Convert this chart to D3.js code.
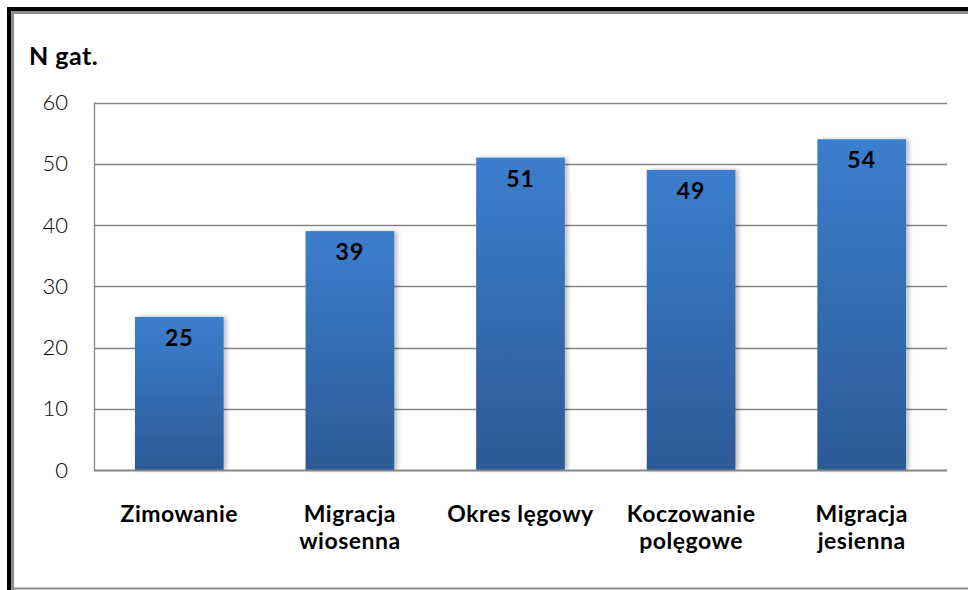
<!DOCTYPE html>
<html>
<head>
<meta charset="utf-8">
<script src="https://cdn.jsdelivr.net/npm/d3@7"></script>
<style>
  body { margin: 0; background: #fff; }
  svg { display: block; }
  text { font-family: Lato, "Open Sans", sans-serif; fill: #000; }
</style>
</head>
<body>
<div id="chart"></div>
<script>
// dane
const categories = [["Zimowanie"], ["Migracja", "wiosenna"], ["Okres lęgowy"], ["Koczowanie", "polęgowe"], ["Migracja", "jesienna"]]
const values = [25, 39, 51, 49, 54]
const yTicks = [0, 10, 20, 30, 40, 50, 60]
const yTitle = "N gat."

// wymiary
const width = 968
const height = 590
const plot = { left: 94, right: 947, top: 102.5, bottom: 470 }

const svg = d3.select("#chart").append("svg").attr("width", width).attr("height", height)

// gradient
const defs = svg.append("defs")
const grad = defs.append("linearGradient").attr("id", "barGrad").attr("x1", 0).attr("y1", 0).attr("x2", 0).attr("y2", 1)
grad.append("stop").attr("offset", "0%").attr("stop-color", "#3c7ecd")
grad.append("stop").attr("offset", "100%").attr("stop-color", "#2c5a97")
const shadow = defs.append("filter").attr("id", "shadow").attr("x", "-10%").attr("y", "-10%").attr("width", "130%").attr("height", "120%")
shadow.append("feGaussianBlur").attr("in", "SourceAlpha").attr("stdDeviation", 2)
shadow.append("feOffset").attr("dx", 3).attr("dy", 0).attr("result", "b")
shadow.append("feComponentTransfer").append("feFuncA").attr("type", "linear").attr("slope", 0.25)
const merge = shadow.append("feMerge")
merge.append("feMergeNode")
merge.append("feMergeNode").attr("in", "SourceGraphic")

// ramka
const frame = svg.append("g").attr("id", "frame")
frame.append("rect").attr("x", 7).attr("y", 7).attr("width", width - 7).attr("height", 4).attr("fill", "#000")
frame.append("rect").attr("x", 7).attr("y", 7).attr("width", 4).attr("height", height - 7).attr("fill", "#000")
frame.append("rect").attr("x", 11).attr("y", 11).attr("width", width - 11).attr("height", 3).attr("fill", "#8c8c8c")
frame.append("rect").attr("x", 11).attr("y", 11).attr("width", 3).attr("height", height - 11).attr("fill", "#8c8c8c")
frame.append("rect").attr("x", 14).attr("y", 587.5).attr("width", width - 14).attr("height", 2).attr("fill", "#8c8c8c")

// skale
const x = d3.scaleBand().domain(d3.range(values.length)).range([plot.left, plot.right]).paddingInner(0.48).paddingOuter(0.24)
const y = d3.scaleLinear().domain([0, 60]).range([plot.bottom, plot.top])

// siatka
const grid = svg.append("g").attr("id", "grid")
grid.selectAll("line").data(yTicks.filter(d => d > 0)).enter().append("line")
  .attr("x1", plot.left).attr("x2", plot.right)
  .attr("y1", d => Math.round(y(d)) + 0.5).attr("y2", d => Math.round(y(d)) + 0.5)
  .attr("stroke", "#868686").attr("stroke-width", 1.3)

// os Y
const yAxis = d3.axisLeft(y).tickValues(yTicks).tickSize(0).tickPadding(26)
const yAxisGroup = svg.append("g").attr("transform", `translate(${plot.left},0)`).call(yAxis)
yAxisGroup.select(".domain").remove()
yAxisGroup.selectAll("text").attr("font-size", 22).attr("fill", "#000").style("font-family", "Lato, sans-serif").attr("font-weight", 300)
svg.append("line").attr("x1", plot.left + 0.5).attr("x2", plot.left + 0.5).attr("y1", plot.top).attr("y2", plot.bottom)
  .attr("stroke", "#868686").attr("stroke-width", 1.3)

// slupki
const bars = svg.append("g").attr("id", "bars")
bars.selectAll("rect").data(values).enter().append("rect")
  .attr("x", (d, i) => x(i))
  .attr("y", d => y(d))
  .attr("width", x.bandwidth())
  .attr("height", d => plot.bottom - y(d))
  .attr("fill", "url(#barGrad)")
  .attr("filter", "url(#shadow)")

// os X (linia bazowa)
svg.append("line").attr("x1", plot.left).attr("x2", plot.right).attr("y1", plot.bottom + 0.5).attr("y2", plot.bottom + 0.5)
  .attr("stroke", "#868686").attr("stroke-width", 2)

// etykiety wartosci
bars.selectAll("text").data(values).enter().append("text")
  .attr("x", (d, i) => x(i) + x.bandwidth() / 2)
  .attr("y", d => y(d) + 29)
  .attr("text-anchor", "middle")
  .attr("font-size", 23).attr("font-weight", "bold")
  .attr("letter-spacing", 1)
  .text(d => d)

// etykiety kategorii
const xLabels = svg.append("g").attr("id", "xLabels")
categories.forEach((lines, i) => {
  const t = xLabels.append("text")
    .attr("x", x(i) + x.bandwidth() / 2)
    .attr("y", 522)
    .attr("text-anchor", "middle")
    .attr("font-size", 23).attr("font-weight", "bold")
    .attr("letter-spacing", 0.5)
  lines.forEach((l, j) => {
    t.append("tspan").attr("x", x(i) + x.bandwidth() / 2).attr("dy", j === 0 ? 0 : 27).text(l)
  })
})

// tytul osi
svg.append("text").attr("x", 29).attr("y", 65).attr("font-size", 25).attr("font-weight", "bold").attr("letter-spacing", 0.5).text(yTitle)
</script>
</body>
</html>
